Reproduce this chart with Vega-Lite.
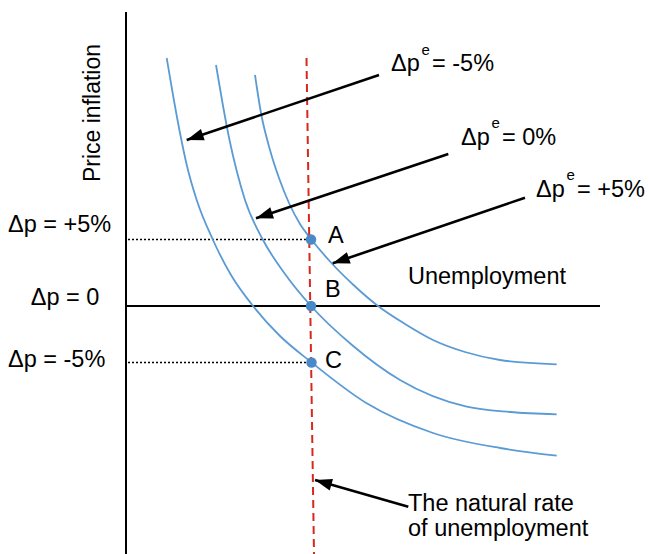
{
  "$schema": "https://vega.github.io/schema/vega-lite/v6.json",
  "width": 649,
  "height": 554,
  "autosize": "none",
  "padding": 0,
  "background": "white",
  "config": {"view": {"stroke": null}, "text": {"font": "Liberation Sans", "color": "black"}},
  "datasets": {
    "axes": [
      {"x": 0, "y": 294, "x2": 0, "y2": -248},
      {"x": 0, "y": 0, "x2": 474, "y2": 0}
    ],
    "dotted": [
      {"x": 2, "y": 66.5, "x2": 183, "y2": 66.5},
      {"x": 2, "y": -56.5, "x2": 183, "y2": -56.5}
    ],
    "natural": [
      {"x": 180.5, "y": 248, "x2": 188, "y2": -248}
    ],
    "curves": [
      {"curve": "m5", "x": 40.7, "y": 248},
      {"curve": "m5", "x": 47, "y": 211},
      {"curve": "m5", "x": 54, "y": 173},
      {"curve": "m5", "x": 61, "y": 140},
      {"curve": "m5", "x": 70.7, "y": 106},
      {"curve": "m5", "x": 87, "y": 66},
      {"curve": "m5", "x": 105, "y": 31},
      {"curve": "m5", "x": 127, "y": 0},
      {"curve": "m5", "x": 154, "y": -30},
      {"curve": "m5", "x": 185, "y": -56},
      {"curve": "m5", "x": 240.7, "y": -97.3},
      {"curve": "m5", "x": 307, "y": -127},
      {"curve": "m5", "x": 374, "y": -142},
      {"curve": "m5", "x": 430.7, "y": -149.7},
      {"curve": "z0", "x": 90, "y": 241},
      {"curve": "z0", "x": 96.5, "y": 203},
      {"curve": "z0", "x": 103.5, "y": 166},
      {"curve": "z0", "x": 111, "y": 134},
      {"curve": "z0", "x": 119, "y": 106},
      {"curve": "z0", "x": 137, "y": 66},
      {"curve": "z0", "x": 159, "y": 32},
      {"curve": "z0", "x": 185, "y": 0},
      {"curve": "z0", "x": 226, "y": -39},
      {"curve": "z0", "x": 274, "y": -74},
      {"curve": "z0", "x": 340.7, "y": -100.7},
      {"curve": "z0", "x": 384, "y": -106},
      {"curve": "z0", "x": 430.7, "y": -108.3},
      {"curve": "p5", "x": 129, "y": 231},
      {"curve": "p5", "x": 135, "y": 193},
      {"curve": "p5", "x": 144, "y": 156},
      {"curve": "p5", "x": 153, "y": 128},
      {"curve": "p5", "x": 163, "y": 103},
      {"curve": "p5", "x": 174, "y": 82},
      {"curve": "p5", "x": 185, "y": 67},
      {"curve": "p5", "x": 204.5, "y": 44},
      {"curve": "p5", "x": 227.5, "y": 21},
      {"curve": "p5", "x": 252, "y": 0},
      {"curve": "p5", "x": 279, "y": -18},
      {"curve": "p5", "x": 307, "y": -34},
      {"curve": "p5", "x": 339, "y": -46},
      {"curve": "p5", "x": 374, "y": -54},
      {"curve": "p5", "x": 430.7, "y": -58.3}
    ],
    "arrows": [
      {"x": 253, "y": 231, "x2": 60.7, "y2": 166},
      {"x": 322.3, "y": 152, "x2": 130, "y2": 87.7},
      {"x": 399, "y": 108.3, "x2": 206.7, "y2": 42.7},
      {"x": 282.3, "y": -200.7, "x2": 189, "y2": -174}
    ],
    "points": [
      {"label": "A", "x": 185, "y": 66.5},
      {"label": "B", "x": 185, "y": 0},
      {"label": "C", "x": 185.5, "y": -56.5}
    ],
    "labels": [
      {"label": "Δp = +5%", "x": -118, "y": 74},
      {"label": "Δp = 0", "x": -95.3, "y": 1},
      {"label": "Δp = -5%", "x": -118, "y": -61},
      {"label": "A", "x": 202, "y": 63},
      {"label": "B", "x": 199, "y": 9},
      {"label": "C", "x": 199, "y": -62},
      {"label": "Unemployment", "x": 282, "y": 22},
      {"label": "The natural rate", "x": 282, "y": -205},
      {"label": "of unemployment", "x": 282, "y": -230},
      {"label": "Δp", "x": 265, "y": 235},
      {"label": "= -5%", "x": 306, "y": 235},
      {"label": "Δp", "x": 335, "y": 161.3},
      {"label": "= 0%", "x": 376, "y": 161.3},
      {"label": "Δp", "x": 410, "y": 109.3},
      {"label": "= +5%", "x": 451, "y": 109.3}
    ],
    "supers": [
      {"label": "e", "x": 295.5, "y": 251.5},
      {"label": "e", "x": 365.5, "y": 177.8},
      {"label": "e", "x": 440.5, "y": 125.8}
    ],
    "ytitle": [
      {"label": "Price inflation", "x": -26, "y": 193}
    ]
  },
  "layer": [
    {
      "data": {"name": "axes"},
      "mark": {"type": "rule", "color": "black", "strokeWidth": 2},
      "encoding": {
        "x": {"field": "x", "type": "quantitative", "scale": {"domain": [-126, 523], "nice": false, "zero": false}, "axis": null},
        "y": {"field": "y", "type": "quantitative", "scale": {"domain": [-248, 306], "nice": false, "zero": false}, "axis": null},
        "x2": {"field": "x2"},
        "y2": {"field": "y2"}
      }
    },
    {
      "data": {"name": "dotted"},
      "mark": {"type": "rule", "color": "black", "strokeWidth": 1.6, "strokeDash": [2, 2]},
      "encoding": {
        "x": {"field": "x", "type": "quantitative"},
        "y": {"field": "y", "type": "quantitative"},
        "x2": {"field": "x2"},
        "y2": {"field": "y2"}
      }
    },
    {
      "data": {"name": "curves"},
      "mark": {"type": "line", "color": "#5b9bd5", "strokeWidth": 1.8, "interpolate": "monotone"},
      "encoding": {
        "x": {"field": "x", "type": "quantitative"},
        "y": {"field": "y", "type": "quantitative"},
        "detail": {"field": "curve"}
      }
    },
    {
      "data": {"name": "natural"},
      "mark": {"type": "rule", "color": "#d42a1e", "strokeWidth": 2, "strokeDash": [8, 5]},
      "encoding": {
        "x": {"field": "x", "type": "quantitative"},
        "y": {"field": "y", "type": "quantitative"},
        "x2": {"field": "x2"},
        "y2": {"field": "y2"}
      }
    },
    {
      "data": {"name": "arrows"},
      "mark": {"type": "rule", "color": "black", "strokeWidth": 2.6},
      "encoding": {
        "x": {"field": "x", "type": "quantitative"},
        "y": {"field": "y", "type": "quantitative"},
        "x2": {"field": "x2"},
        "y2": {"field": "y2"}
      }
    },
    {
      "data": {"name": "arrows"},
      "transform": [
        {"calculate": "atan2(datum.x2 - datum.x, datum.y2 - datum.y) * 180 / PI", "as": "dir"}
      ],
      "mark": {"type": "point", "shape": "M0,0L0.7,2L-0.7,2Z", "filled": true, "color": "black", "opacity": 1, "size": 289, "strokeWidth": 0},
      "encoding": {
        "x": {"field": "x2", "type": "quantitative"},
        "y": {"field": "y2", "type": "quantitative"},
        "angle": {"field": "dir", "type": "quantitative", "scale": null}
      }
    },
    {
      "data": {"name": "points"},
      "mark": {"type": "circle", "color": "#4a89c8", "opacity": 1, "size": 110},
      "encoding": {
        "x": {"field": "x", "type": "quantitative"},
        "y": {"field": "y", "type": "quantitative"}
      }
    },
    {
      "data": {"name": "labels"},
      "mark": {"type": "text", "fontSize": 23.5, "align": "left", "baseline": "alphabetic"},
      "encoding": {
        "x": {"field": "x", "type": "quantitative"},
        "y": {"field": "y", "type": "quantitative"},
        "text": {"field": "label"}
      }
    },
    {
      "data": {"name": "supers"},
      "mark": {"type": "text", "fontSize": 15, "align": "left", "baseline": "alphabetic"},
      "encoding": {
        "x": {"field": "x", "type": "quantitative"},
        "y": {"field": "y", "type": "quantitative"},
        "text": {"field": "label"}
      }
    },
    {
      "data": {"name": "ytitle"},
      "mark": {"type": "text", "fontSize": 23, "align": "center", "baseline": "alphabetic", "angle": 270},
      "encoding": {
        "x": {"field": "x", "type": "quantitative"},
        "y": {"field": "y", "type": "quantitative"},
        "text": {"field": "label"}
      }
    }
  ]
}
